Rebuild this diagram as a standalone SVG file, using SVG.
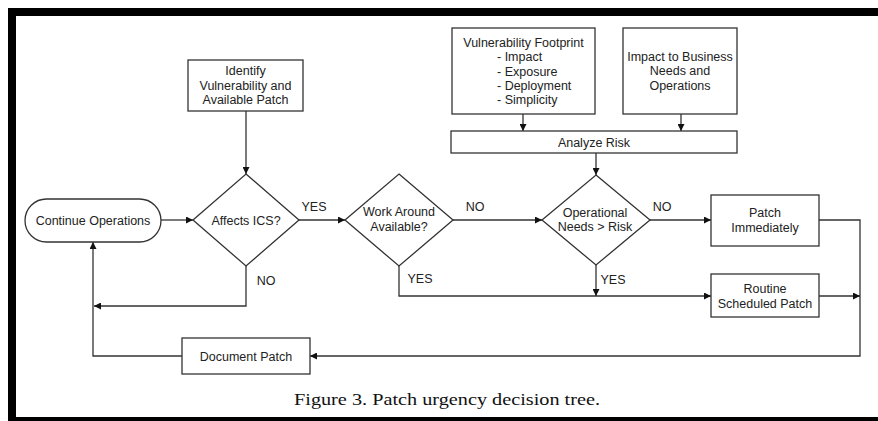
<svg xmlns="http://www.w3.org/2000/svg" width="878" height="421" viewBox="0 0 878 421">
<style>
.box{fill:#fff;stroke:#333;stroke-width:1.3}
.t{font-family:"Liberation Sans",Arial,sans-serif;font-size:12.5px;fill:#222;text-anchor:middle}
.l{text-anchor:start}
.c{fill:none;stroke:#333;stroke-width:1.3}
.cap{font-family:"Liberation Serif","Times New Roman",serif;font-size:17px;fill:#111}
</style>
<defs>
<marker id="ah" viewBox="0 0 10 10" refX="10" refY="5" markerWidth="7" markerHeight="7" markerUnits="userSpaceOnUse" orient="auto">
<path d="M0,0 L10,5 L0,10 Z" fill="#111"/>
</marker>
</defs>
<rect width="878" height="421" fill="#fff"/>
<g id="frame" fill="#000">
<rect x="8" y="8" width="870" height="8"/>
<rect x="8" y="8" width="8" height="413"/>
<rect x="8" y="417" width="870" height="4"/>
</g>
<g id="connectors">
<path class="c" d="M246,111 V174" marker-end="url(#ah)"/>
<path class="c" d="M161,220 H193" marker-end="url(#ah)"/>
<path class="c" d="M299,220 H345" marker-end="url(#ah)"/>
<path class="c" d="M453,220 H542" marker-end="url(#ah)"/>
<path class="c" d="M650,220 H711" marker-end="url(#ah)"/>
<path class="c" d="M523,114 V131" marker-end="url(#ah)"/>
<path class="c" d="M681,114 V131" marker-end="url(#ah)"/>
<path class="c" d="M596,153 V175" marker-end="url(#ah)"/>
<path class="c" d="M246,266 V306 H94" marker-end="url(#ah)"/>
<path class="c" d="M399,266 V296 H711" marker-end="url(#ah)"/>
<path class="c" d="M596,265 V296" marker-end="url(#ah)"/>
<path class="c" d="M819,220 H860 V356 H310" marker-end="url(#ah)"/>
<path class="c" d="M819,296 H860" marker-end="url(#ah)"/>
<path class="c" d="M182,356 H93 V242" marker-end="url(#ah)"/>
<text class="t" x="314" y="211">YES</text>
<text class="t" x="475" y="211">NO</text>
<text class="t" x="662" y="211">NO</text>
<text class="t" x="266" y="284.5">NO</text>
<text class="t" x="420" y="283">YES</text>
<text class="t" x="613" y="283.5">YES</text>
</g>
<g id="identify">
<rect class="box" x="188" y="60" width="115" height="51"/>
<text class="t" x="245.5" y="75">Identify</text>
<text class="t" x="245.5" y="89.5">Vulnerability and</text>
<text class="t" x="245.5" y="104">Available Patch</text>
</g>
<g id="continue">
<rect class="box" x="25" y="199" width="136" height="43" rx="21.5"/>
<text class="t" x="93" y="225">Continue Operations</text>
</g>
<g id="affects">
<polygon class="box" points="246,174 299,220 246,266 193,220"/>
<text class="t" x="246" y="224.5">Affects ICS?</text>
</g>
<g id="workaround">
<polygon class="box" points="399,174 453,220 399,266 345,220"/>
<text class="t" x="399" y="216">Work Around</text>
<text class="t" x="399" y="231">Available?</text>
</g>
<g id="operational">
<polygon class="box" points="596,175 650,220 596,265 542,220"/>
<text class="t" x="595" y="217">Operational</text>
<text class="t" x="595" y="231">Needs &gt; Risk</text>
</g>
<g id="footprint">
<rect class="box" x="452" y="28" width="143" height="86"/>
<text class="t" x="523.5" y="46.5">Vulnerability Footprint</text>
<text class="t l" x="497" y="61">- Impact</text>
<text class="t l" x="497" y="75.5">- Exposure</text>
<text class="t l" x="497" y="90">- Deployment</text>
<text class="t l" x="497" y="104">- Simplicity</text>
</g>
<g id="business">
<rect class="box" x="623" y="28" width="114" height="86"/>
<text class="t" x="680" y="60.5">Impact to Business</text>
<text class="t" x="680" y="75">Needs and</text>
<text class="t" x="680" y="89.5">Operations</text>
</g>
<g id="analyze">
<rect class="box" x="451" y="131" width="286" height="22"/>
<text class="t" x="594" y="146.5">Analyze Risk</text>
</g>
<g id="immediately">
<rect class="box" x="711" y="195" width="108" height="51"/>
<text class="t" x="765" y="216.5">Patch</text>
<text class="t" x="765" y="231.5">Immediately</text>
</g>
<g id="routine">
<rect class="box" x="711" y="274" width="108" height="43"/>
<text class="t" x="765" y="292.5">Routine</text>
<text class="t" x="765" y="307.5">Scheduled Patch</text>
</g>
<g id="document">
<rect class="box" x="182" y="338" width="128" height="36"/>
<text class="t" x="246" y="360.5">Document Patch</text>
</g>
<text class="cap" x="294" y="405" textLength="306" lengthAdjust="spacingAndGlyphs">Figure 3. Patch urgency decision tree.</text>
</svg>
